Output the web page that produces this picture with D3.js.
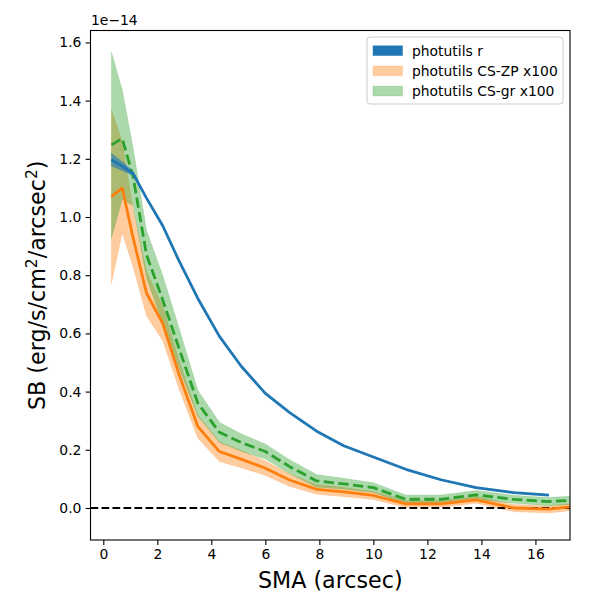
<!DOCTYPE html>
<meta charset="utf-8">
<style>
body { margin: 0; background: #fff; }
text { font-family: 'DejaVu Sans', sans-serif; fill: #000; }
.tick text { font-size: 13.9px; }
.axisLabel { font-size: 22.2px; }
.legendLabel { font-size: 13.9px; }
</style>
<body>
<script src="https://d3js.org/d3.v7.min.js"></script>
<script>
// surface brightness profiles, values in units of 1e-14 erg/s/cm2/arcsec2
const sma = [0.3, 0.7, 1.1, 1.6, 2.2, 2.8, 3.5, 4.3, 5.1, 6.0, 6.9, 7.9, 8.9, 10.0, 11.2, 12.5, 13.8, 15.2, 16.5, 17.9];

const rMean = [1.197, 1.175, 1.15, 1.065, 0.97, 0.85, 0.72, 0.59, 0.488, 0.394, 0.328, 0.264, 0.214, 0.175, 0.133, 0.097, 0.070, 0.053, 0.044];
const rHi   = [1.219, 1.190, 1.158, 1.069, 0.974, 0.853, 0.723, 0.592, 0.490, 0.396, 0.330, 0.266, 0.216, 0.177, 0.135, 0.099, 0.072, 0.055, 0.046];
const rLo   = [1.175, 1.160, 1.142, 1.061, 0.966, 0.847, 0.717, 0.588, 0.486, 0.392, 0.326, 0.262, 0.212, 0.173, 0.131, 0.095, 0.068, 0.051, 0.042];

const zpMean = [1.07, 1.10, 0.93, 0.738, 0.635, 0.46, 0.28, 0.194, 0.168, 0.137, 0.096, 0.064, 0.055, 0.043, 0.014, 0.014, 0.028, 0.000, -0.004, 0.010];
const zpHi   = [1.37, 1.26, 1.03, 0.815, 0.695, 0.51, 0.32, 0.228, 0.198, 0.162, 0.118, 0.081, 0.071, 0.057, 0.026, 0.026, 0.040, 0.012, 0.008, 0.022];
const zpLo   = [0.77, 0.945, 0.83, 0.66, 0.575, 0.41, 0.24, 0.160, 0.138, 0.112, 0.074, 0.047, 0.039, 0.029, 0.002, 0.002, 0.016, -0.013, -0.017, -0.003];

const grMean = [1.248, 1.27, 1.14, 0.87, 0.715, 0.55, 0.36, 0.26, 0.225, 0.194, 0.142, 0.093, 0.083, 0.070, 0.030, 0.030, 0.045, 0.030, 0.022, 0.030];
const grHi   = [1.567, 1.437, 1.24, 0.955, 0.80, 0.62, 0.405, 0.295, 0.255, 0.220, 0.166, 0.115, 0.102, 0.087, 0.045, 0.045, 0.060, 0.044, 0.036, 0.045];
const grLo   = [0.927, 1.06, 1.04, 0.79, 0.635, 0.48, 0.315, 0.225, 0.195, 0.168, 0.118, 0.071, 0.064, 0.053, 0.015, 0.015, 0.030, 0.016, 0.008, 0.015];

const xTicks = [0, 2, 4, 6, 8, 10, 12, 14, 16];
const yTicks = [0.0, 0.2, 0.4, 0.6, 0.8, 1.0, 1.2, 1.4, 1.6];
const legendNames = ["photutils r", "photutils CS-ZP x100", "photutils CS-gr x100"];

const W = 600, H = 600,
      axL = 90.5, axR = 570, axT = 30.5, axB = 540;

const svg = d3.select("body").append("svg")
    .attr("width", W).attr("height", H);

const x = d3.scaleLinear().domain([-0.474, 17.28]).range([axL, axR]);
const y = d3.scaleLinear().domain([-0.11, 1.641]).range([axB, axT]);

svg.append("clipPath").attr("id", "clip")
  .append("rect")
    .attr("x", axL).attr("y", axT)
    .attr("width", axR - axL).attr("height", axB - axT);

const plot = svg.append("g").attr("clip-path", "url(#clip)");

function rows(mean, lo, hi) {
    return mean.map((m, i) => ({x: sma[i], m: m, lo: lo[i], hi: hi[i]}));
}

const series = [
    {data: rows(rMean, rLo, rHi), color: "#1f77b4", fillOp: 0.6, dash: null},
    {data: rows(zpMean, zpLo, zpHi), color: "#ff7f0e", fillOp: 0.4, dash: null},
    {data: rows(grMean, grLo, grHi), color: "#2ca02c", fillOp: 0.4, dash: "10.3,4.4"}
];

const area = d3.area().x(d => x(d.x)).y0(d => y(d.lo)).y1(d => y(d.hi));
const line = d3.line().x(d => x(d.x)).y(d => y(d.m));

// bands first: orange, green, then blue on top
[series[1], series[2], series[0]].forEach(s => {
    plot.append("path")
        .datum(s.data)
        .attr("d", area)
        .attr("fill", s.color)
        .attr("fill-opacity", s.fillOp)
        .attr("stroke", s.color)
        .attr("stroke-opacity", s.fillOp * 0.5)
        .attr("stroke-width", 0.7);
});

// zero line
plot.append("line")
    .attr("x1", axL).attr("x2", axR)
    .attr("y1", y(0)).attr("y2", y(0))
    .attr("stroke", "#000")
    .attr("stroke-width", 2.08)
    .attr("stroke-dasharray", "7.7,3.3");

[series[1], series[2], series[0]].forEach(s => {
    plot.append("path")
        .datum(s.data)
        .attr("d", line)
        .attr("fill", "none")
        .attr("stroke", s.color)
        .attr("stroke-width", 2.78)
        .attr("stroke-linejoin", "round")
        .attr("stroke-dasharray", s.dash);
});

// axes
const xAxis = d3.axisBottom(x).tickValues(xTicks).tickFormat(d3.format("d"))
    .tickSize(4.9).tickPadding(4.2);
const yAxis = d3.axisLeft(y).tickValues(yTicks).tickFormat(d3.format(".1f"))
    .tickSize(4.9).tickPadding(4.2);

const gx = svg.append("g").attr("transform", `translate(0,${axB})`).call(xAxis);
const gy = svg.append("g").attr("transform", `translate(${axL},0)`).call(yAxis);
[gx, gy].forEach(g => {
    g.select(".domain").remove();
    g.selectAll(".tick line").attr("stroke", "#000").attr("stroke-width", 1.1);
    g.selectAll(".tick text").attr("fill", "#000");
});

svg.append("rect")
    .attr("x", axL).attr("y", axT)
    .attr("width", axR - axL).attr("height", axB - axT)
    .attr("fill", "none").attr("stroke", "#000").attr("stroke-width", 1.1);

// offset text
svg.append("text")
    .attr("x", 91).attr("y", 25)
    .style("font-size", "13.9px")
    .text("1e\u221214");

// axis labels
svg.append("text")
    .attr("class", "axisLabel")
    .attr("x", (axL + axR) / 2).attr("y", 588)
    .attr("text-anchor", "middle")
    .text("SMA (arcsec)");

const yl = svg.append("text")
    .attr("class", "axisLabel")
    .attr("text-anchor", "middle")
    .attr("transform", `translate(45,${(axT + axB) / 2}) rotate(-90)`);
yl.append("tspan").text("SB (erg/s/cm");
yl.append("tspan").attr("dy", -8).style("font-size", "15.5px").text("2");
yl.append("tspan").attr("dy", 8).text("/arcsec");
yl.append("tspan").attr("dy", -8).style("font-size", "15.5px").text("2");
yl.append("tspan").attr("dy", 8).text(")");

// legend
const lg = svg.append("g").attr("transform", "translate(367,37)");
lg.append("rect")
    .attr("width", 196).attr("height", 67)
    .attr("rx", 3)
    .attr("fill", "#fff").attr("fill-opacity", 0.8)
    .attr("stroke", "#ccc").attr("stroke-width", 1);

const items = lg.selectAll("g.item")
    .data(series.map((s, i) => ({name: legendNames[i], color: s.color, op: i === 0 ? 1 : s.fillOp})))
    .join("g")
    .attr("class", "item")
    .attr("transform", (d, i) => `translate(0,${13.7 + i * 20.2})`);

items.append("rect")
    .attr("x", 6).attr("y", -4.9)
    .attr("width", 29.5).attr("height", 9.7)
    .attr("fill", d => d.color)
    .attr("fill-opacity", d => d.op)
    .attr("stroke", d => d.color)
    .attr("stroke-opacity", d => d.op * 0.5);

items.append("text")
    .attr("class", "legendLabel")
    .attr("x", 45).attr("y", 0)
    .attr("dy", "0.36em")
    .text(d => d.name);
</script>
</body>
